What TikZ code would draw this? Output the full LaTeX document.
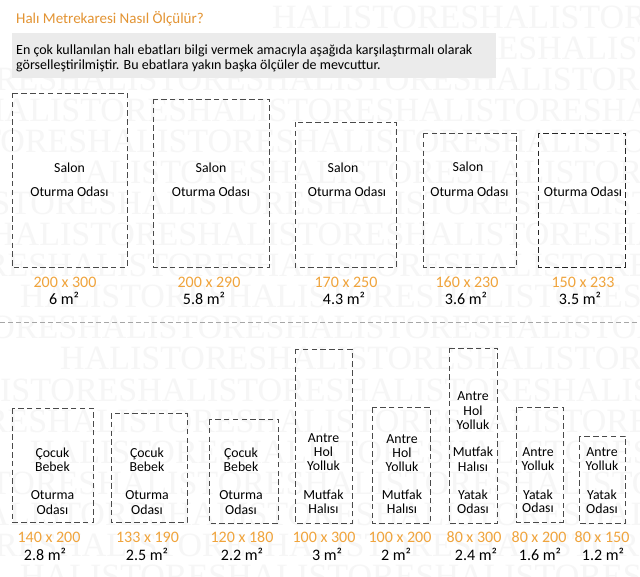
\documentclass[tikz,border=0pt]{standalone}
\usepackage{fontspec}
\setmainfont{Carlito}
\newfontfamily\wmfont{Liberation Serif}
\definecolor{titleor}{HTML}{E39433}
\definecolor{sizeor}{HTML}{F0A43C}
\definecolor{boxgray}{HTML}{EBEBEB}
\definecolor{wmgray}{HTML}{F6F6F6}
\definecolor{dashcol}{HTML}{4A4A4A}
\tikzset{
  rug/.style={draw=dashcol, line width=0.8pt, dash pattern=on 5.5pt off 3.3pt},
  lbl/.style={inner sep=0pt, anchor=base, font=\fontsize{13.8}{14}\selectfont, text=black},
  szo/.style={inner sep=0pt, anchor=base, font=\fontsize{16}{16}\selectfont, text=sizeor},
  szb/.style={inner sep=0pt, anchor=base, font=\fontsize{16}{16}\selectfont, text=black},
  wm/.style={inner sep=0pt, anchor=base west, font=\wmfont\fontsize{34}{34}\selectfont, text=wmgray},
  intro/.style={inner sep=0pt, anchor=base west, font=\fontsize{14}{15}\selectfont, text=black},
  sep/.style={draw=black!35, line width=0.8pt, dash pattern=on 5pt off 3pt}
}
\begin{document}
\begin{tikzpicture}[x=1pt,y=-1pt]
\useasboundingbox (0,0) rectangle (640,577);
\fill[white] (0,0) rectangle (640,577);
% watermark
\begin{scope}
\clip (0,0) rectangle (640,577);
\foreach \yy/\xx [count=\k] in {29/272,60/330,91/-150,122/-20,153/-120,184/60,215/-90,246/-10,277/-160,308/20,
  339/-130,370/60,401/-70,432/-160,463/30,494/-110,525/-40,556/-150,587/20}
  \node[wm] (wm\k) at (\xx,\yy) {HALISTORESHALISTORESHALISTORESHALISTORES};
\end{scope}
% header
\node[inner sep=0pt, anchor=base west, font=\fontsize{15}{15}\selectfont, text=titleor] (title) at (16,24) {Halı Metrekaresi Nasıl Ölçülür?};
\fill[boxgray] (12,33) rectangle (496,78);
\node[intro] (intro1) at (16,54.5) {En çok kullanılan halı ebatları bilgi vermek amacıyla aşağıda karşılaştırmalı olarak};
\node[intro] (intro2) at (16,69.5) {görselleştirilmiştir. Bu ebatlara yakın başka ölçüler de mevcuttur.};
% top row boxes
\draw[rug] (12,93) rectangle (127,267);
\draw[rug] (153,99) rectangle (269,267);
\draw[rug] (295,122) rectangle (396,267);
\draw[rug] (423,133) rectangle (516,267);
\draw[rug, draw=black!85] (538,133) rectangle (625,267);
\foreach \x/\y/\t [count=\k] in {69.5/173/Salon, 69.5/197/Oturma Odası,
  211/173/Salon, 211/197/Oturma Odası,
  343/173/Salon, 347/197/Oturma Odası,
  468/172/Salon, 469.5/197/Oturma Odası,
  583/197/Oturma Odası}
  \node[lbl] (tl\k) at (\x,\y) {\t};
\foreach \x/\t [count=\k] in {65/200 x 300, 209/200 x 290, 346/170 x 250, 467/160 x 230, 583/150 x 233}
  \node[szo] (to\k) at (\x,287.5) {\t};
\foreach \x/\t [count=\k] in {64/6 m², 204/5.8 m², 344/4.3 m², 466/3.6 m², 580/3.5 m²}
  \node[szb] (tb\k) at (\x,305) {\t};
% separator
\coordinate (sepL) at (0,322.5);
\coordinate (sepR) at (640,322.5);
\draw[sep] (sepL) -- (sepR);
% bottom row boxes
\draw[rug] (12,408) rectangle (93,522);
\draw[rug] (111,413) rectangle (187,522);
\draw[rug] (209,419) rectangle (278,523);
\draw[rug] (295,349) rectangle (352,523);
\draw[rug] (372,407) rectangle (430,523);
\draw[rug] (449,348) rectangle (497,523);
\draw[rug] (516,407) rectangle (563,522);
\draw[rug] (579,436) rectangle (625,523);
\foreach \x/\y/\t [count=\k] in {
  52.5/457.7/Çocuk, 52.5/471.7/Bebek, 52.5/499.5/Oturma, 52.5/514/Odası,
  147/457.7/Çocuk, 147/471.7/Bebek, 147/499.5/Oturma, 147/514/Odası,
  241/457.7/Çocuk, 241/471.7/Bebek, 241/499.5/Oturma, 241/514/Odası,
  323.5/442.7/Antre, 323.5/456.7/Hol, 323.5/470.7/Yolluk, 323.5/499/Mutfak, 323.5/513/Halısı,
  402/443.3/Antre, 402/457.3/Hol, 402/471.3/Yolluk, 402/499/Mutfak, 402/513/Halısı,
  473/400.7/Antre, 473/415/Hol, 473/429/Yolluk, 473/456.7/Mutfak, 473/471/Halısı, 473/499/Yatak, 473/513/Odası,
  538/456/Antre, 538/470/Yolluk, 538/499/Yatak, 538/512.7/Odası,
  602/456.7/Antre, 602/470.7/Yolluk, 602/499/Yatak, 602/513/Odası}
  \node[lbl] (bl\k) at (\x,\y) {\t};
\foreach \x/\t [count=\k] in {49/140 x 200, 147.5/133 x 190, 242/120 x 180, 324/100 x 300,
  400/100 x 200, 474/80 x 300, 539/80 x 200, 602/80 x 150}
  \node[szo] (bo\k) at (\x,542.5) {\t};
\foreach \x/\t [count=\k] in {45/2.8 m², 147/2.5 m², 242/2.2 m², 327/3 m²,
  396/2 m², 476/2.4 m², 540/1.6 m², 603/1.2 m²}
  \node[szb] (bb\k) at (\x,560) {\t};
\end{tikzpicture}
\end{document}
